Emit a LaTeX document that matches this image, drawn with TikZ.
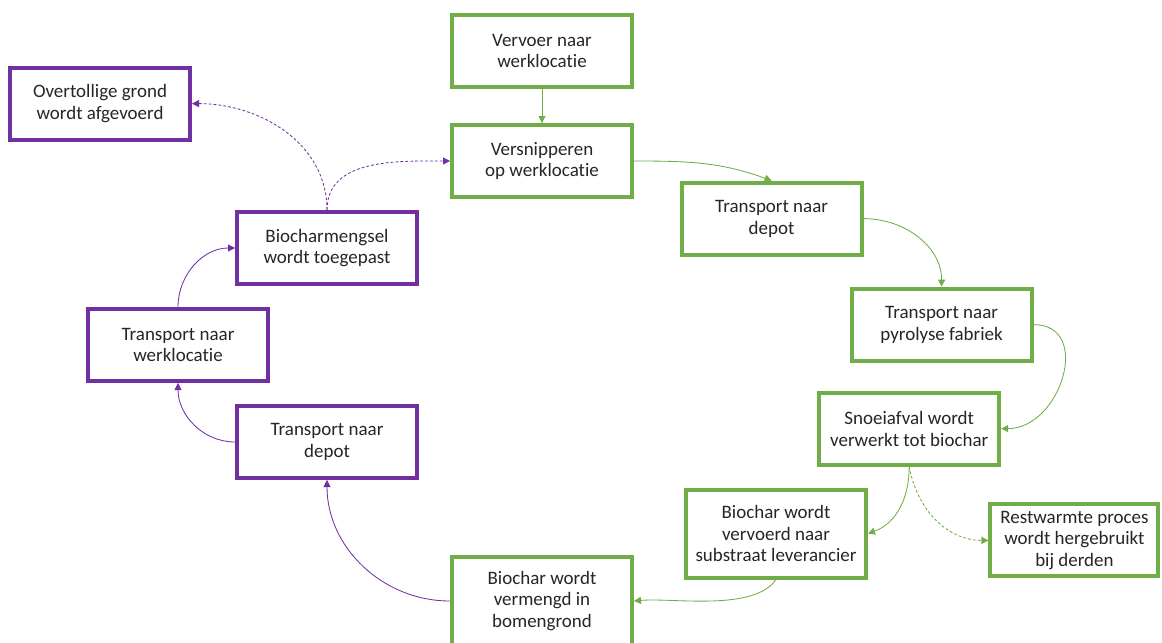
\documentclass[tikz,border=0pt]{standalone}
\usepackage{fontspec}
\setmainfont[Ligatures=NoCommon]{Carlito}
\usetikzlibrary{arrows.meta}
\definecolor{groen}{RGB}{112,173,71}
\definecolor{paars}{RGB}{112,48,160}
\tikzstyle{groenbox} = [rectangle, minimum width=4.5cm, minimum height=1.8cm, align=center, draw=groen, line width=2.8pt, fill=white, text=black!85, font=\fontsize{13.5}{15.5}\selectfont]
\tikzstyle{paarsbox} = [rectangle, minimum width=4.5cm, minimum height=1.8cm, align=center, draw=paars, line width=2.8pt, fill=white, text=black!85, font=\fontsize{13.5}{15.5}\selectfont]
\tikzstyle{garrow} = [line width=0.6pt, draw=groen!75!white, -{Triangle[length=5pt,width=5pt]}, color=groen]
\tikzstyle{parrow} = [line width=0.6pt, draw=paars!55!white, -{Triangle[length=5pt,width=5pt]}, color=paars]
\tikzstyle{stippel} = [dash pattern=on 2pt off 1.5pt]

\begin{document}
\begin{tikzpicture}[node distance=2.75cm]
      \useasboundingbox (0,0) rectangle (29.05,-16.05);
      % groene route
      \node (vervoer) [groenbox] at (13.55,-1.275) {Vervoer naar\\werklocatie};
      \node (versnip) [groenbox, below of=vervoer] {Versnipperen\\op werklocatie};
      \node (tdepot) [groenbox, right of=versnip, xshift=2.99cm, yshift=-1.44cm] {Transport naar\\depot};
      \node (tpyro) [groenbox, below of=tdepot, xshift=4.25cm, yshift=0.1cm] {Transport naar\\pyrolyse fabriek};
      \node (snoei) [groenbox, below of=tpyro, xshift=-0.81cm, yshift=0.15cm] {Snoeiafval wordt\\verwerkt tot biochar};
      \node (bvervoerd) [groenbox, below of=snoei, xshift=-3.33cm, yshift=0.125cm, minimum height=2.2cm] {Biochar wordt\\vervoerd naar\\substraat leverancier};
      \node (rest) [groenbox, right of=bvervoerd, xshift=4.71cm, yshift=-0.17cm, minimum width=4.2cm] {Restwarmte proces\\wordt hergebruikt\\bij derden};
      \node (vermengd) [groenbox, left of=bvervoerd, xshift=-3.1cm, yshift=-1.685cm, minimum height=2.2cm] {Biochar wordt\\vermengd in\\bomengrond};

      % paarse route
      \node (pdepot) [paarsbox, left of=vermengd, xshift=-2.625cm, yshift=3.975cm] {Transport naar\\depot};
      \node (pwerk) [paarsbox, above of=pdepot, xshift=-3.725cm, yshift=-0.325cm] {Transport naar\\werklocatie};
      \node (toegepast) [paarsbox, above of=pwerk, xshift=3.725cm, yshift=-0.325cm] {Biocharmengsel\\wordt toegepast};
      \node (overtollig) [paarsbox, above of=toegepast, xshift=-5.675cm, yshift=0.86cm] {Overtollige grond\\wordt afgevoerd};

      \draw [garrow] (vervoer) -- (versnip);
      \draw [garrow] (versnip.east) to[out=0, in=160] (tdepot.north);
      \draw [garrow] (tdepot.east) to[out=0, in=90] (tpyro.north);
      \draw [garrow] (tpyro.east) to[out=0, in=0, looseness=1.4] (snoei.east);
      \draw [garrow] (snoei.south) to[out=-90, in=20] (bvervoerd.east);
      \draw [garrow, stippel] (snoei.south) to[out=-80, in=180] (rest.west);
      \draw [garrow] (bvervoerd.south) to[out=-125, in=5, looseness=0.7] (vermengd.east);

      \draw [parrow] (vermengd.west) to[out=180, in=-90] (pdepot.south);
      \draw [parrow] (pdepot.west) to[out=180, in=-90] (pwerk.south);
      \draw [parrow] (pwerk.north) to[out=90, in=180] (toegepast.west);
      \draw [parrow, stippel] (toegepast.north) to[out=90, in=0] (overtollig.east);
      \draw [parrow, stippel] (toegepast.north) to[out=90, in=180] (versnip.west);
    \end{tikzpicture}
\end{document}
